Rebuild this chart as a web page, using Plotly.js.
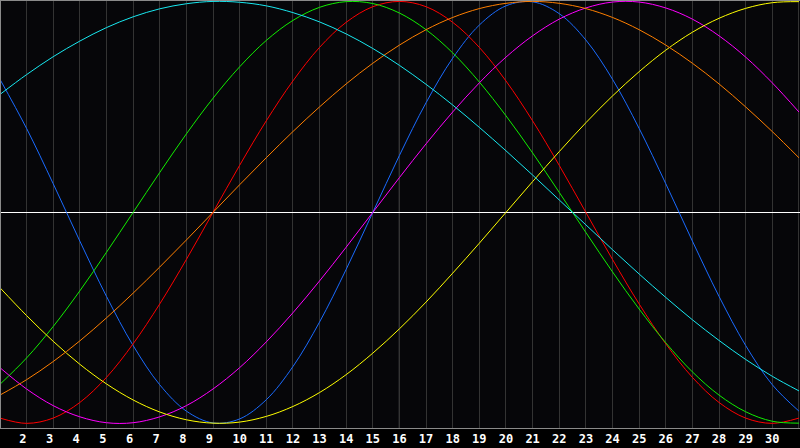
<!DOCTYPE html>
<html>
<head>
<meta charset="utf-8">
<script src="https://cdn.plot.ly/plotly-3.0.1.min.js"></script>
<style>
  html, body { margin: 0; padding: 0; background: #000; }
  #chart { width: 800px; height: 448px; }
</style>
</head>
<body>
<div id="chart"></div>
<script>
// days of the month shown on the bottom axis
const days = [1, 2, 3, 4, 5, 6, 7, 8, 9, 10, 11, 12, 13, 14, 15, 16, 17, 18, 19, 20,
  21, 22, 23, 24, 25, 26, 27, 28, 29, 30, 31];
const dayLabels = ["", "2\u00a0", "3\u00a0", "4\u00a0", "5\u00a0", "6\u00a0", "7\u00a0", "8\u00a0", "9\u00a0",
  "10", "11", "12", "13", "14", "15", "16", "17", "18", "19", "20", "21", "22", "23", "24",
  "25", "26", "27", "28", "29", "30", ""];
const today = 16;

// values, one per day
const physical = [0.631, 0.398, 0.136, -0.136, -0.398, -0.631, -0.817, -0.942, -0.998, -0.979,
  -0.888, -0.731, -0.520, -0.270, 0.000, 0.270, 0.520, 0.731, 0.888, 0.979, 0.998, 0.942,
  0.817, 0.631, 0.398, 0.136, -0.136, -0.398, -0.631, -0.817, -0.942];
const emotional = [-0.975, -1.000, -0.975, -0.901, -0.782, -0.623, -0.434, -0.223, 0.000, 0.223,
  0.434, 0.623, 0.782, 0.901, 0.975, 1.000, 0.975, 0.901, 0.782, 0.623, 0.434, 0.223,
  0.000, -0.223, -0.434, -0.623, -0.782, -0.901, -0.975, -1.000, -0.975];
const intellectual = [-0.815, -0.690, -0.541, -0.372, -0.189, 0.000, 0.189, 0.372, 0.541, 0.690,
  0.815, 0.910, 0.972, 0.999, 0.990, 0.945, 0.866, 0.756, 0.618, 0.458, 0.282, 0.095,
  -0.095, -0.282, -0.458, -0.618, -0.756, -0.866, -0.945, -0.990, -0.999];
const intuitive = [-0.736, -0.837, -0.916, -0.969, -0.997, -0.997, -0.969, -0.916, -0.837, -0.736,
  -0.614, -0.476, -0.325, -0.165, 0.000, 0.165, 0.325, 0.476, 0.614, 0.736, 0.837, 0.916,
  0.969, 0.997, 0.997, 0.969, 0.916, 0.837, 0.736, 0.614, 0.476];
const aesthetic = [-0.357, -0.489, -0.611, -0.720, -0.813, -0.889, -0.946, -0.983, -0.999, -0.994,
  -0.967, -0.920, -0.854, -0.769, -0.667, -0.552, -0.425, -0.288, -0.146, 0.000, 0.146, 0.288,
  0.425, 0.552, 0.667, 0.769, 0.854, 0.920, 0.967, 0.994, 0.999];
const awareness = [-0.866, -0.793, -0.707, -0.609, -0.500, -0.383, -0.259, -0.131, 0.000, 0.131,
  0.259, 0.383, 0.500, 0.609, 0.707, 0.793, 0.866, 0.924, 0.966, 0.991, 1.000, 0.991,
  0.966, 0.924, 0.866, 0.793, 0.707, 0.609, 0.500, 0.383, 0.259];
const spiritual = [0.559, 0.653, 0.738, 0.812, 0.876, 0.927, 0.965, 0.989, 1.000, 0.996,
  0.979, 0.947, 0.903, 0.846, 0.777, 0.697, 0.607, 0.509, 0.403, 0.292, 0.177, 0.059,
  -0.059, -0.177, -0.292, -0.403, -0.509, -0.607, -0.697, -0.777, -0.846];

const series = [
  { name: "Physical", values: physical, color: "#1a6bff" },
  { name: "Emotional", values: emotional, color: "#ff0000" },
  { name: "Intellectual", values: intellectual, color: "#11ee00" },
  { name: "Intuitive", values: intuitive, color: "#ff00ff" },
  { name: "Aesthetic", values: aesthetic, color: "#ffff00" },
  { name: "Awareness", values: awareness, color: "#ff7f00" },
  { name: "Spiritual", values: spiritual, color: "#18e8f0" },
];

var data = series.map((s) => {
  return {
    name: s.name,
    x: days,
    y: s.values,
    mode: "lines",
    type: "scatter",
    line: { color: s.color, width: 1, shape: "spline", smoothing: 1 },
    hoverinfo: "skip",
  };
});

var layout = {
  width: 800,
  height: 448,
  margin: { l: 1, r: 0, t: 1, b: 20 },
  paper_bgcolor: "#000000",
  plot_bgcolor: "#060609",
  showlegend: false,
  xaxis: {
    range: [1.04, 31.04],
    tickmode: "array",
    tickvals: days,
    ticktext: dayLabels,
    showgrid: true,
    gridcolor: "#333333",
    gridwidth: 1,
    zeroline: false,
    showline: true,
    linecolor: "#8a8a8a",
    linewidth: 1,
    mirror: true,
    ticks: "",
    tickfont: { family: "DejaVu Sans Mono", size: 12, color: "#ffffff", weight: "bold" },
  },
  yaxis: {
    range: [-1.022, 1.002],
    showticklabels: false,
    showgrid: false,
    zeroline: true,
    zerolinecolor: "#ffffff",
    zerolinewidth: 1,
    showline: true,
    linecolor: "#8a8a8a",
    linewidth: 1,
    ticks: "",
  },
  shapes: [
    {
      type: "line",
      layer: "below",
      xref: "x",
      yref: "paper",
      x0: today,
      x1: today,
      y0: 0,
      y1: 1,
      line: { color: "#ffffff", width: 1 },
    },
  ],
};

Plotly.newPlot("chart", data, layout, { staticPlot: true, displayModeBar: false });
</script>
</body>
</html>
